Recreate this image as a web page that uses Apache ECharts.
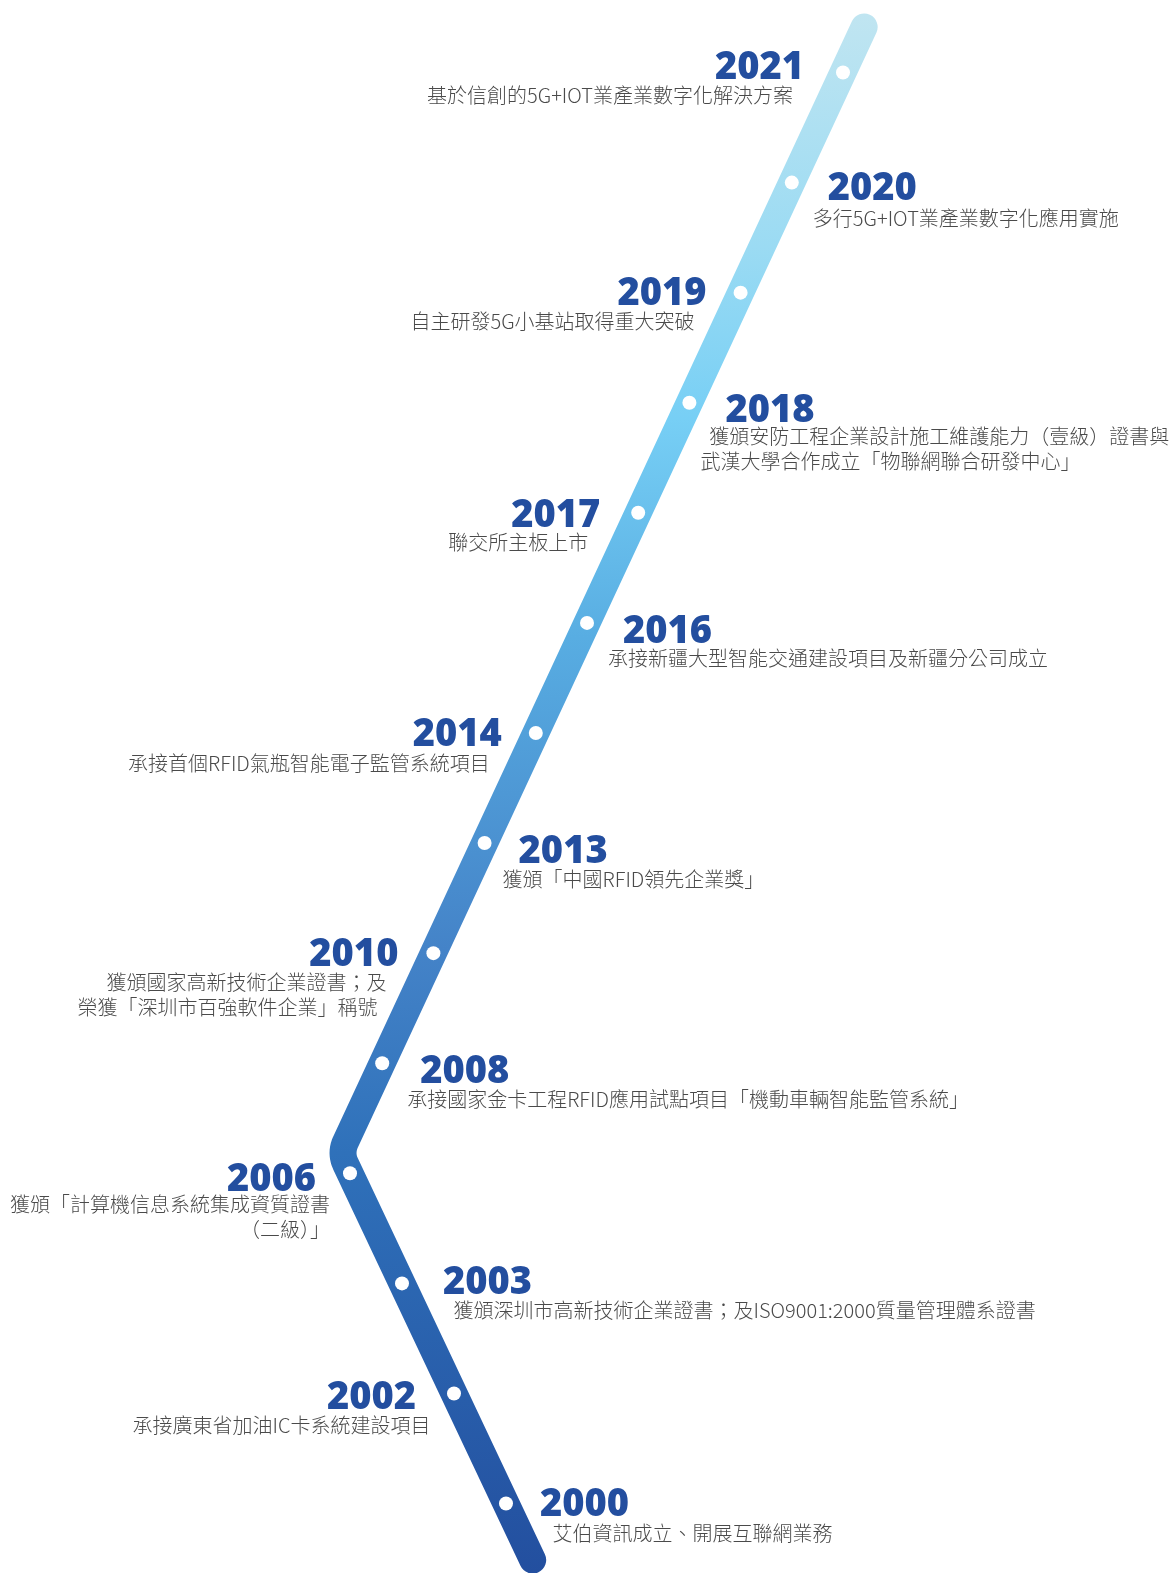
<!DOCTYPE html>
<html>
<head>
<meta charset="utf-8">
<title>發展歷程</title>
<script src="https://cdn.jsdelivr.net/npm/echarts@6/dist/echarts.min.js"></script>
<style>
    html, body {
        margin: 0;
        padding: 0;
        background: #ffffff;
    }
    #chart {
        width: 1173px;
        height: 1573px;
    }
</style>
</head>
<body>
<div id="chart"></div>
<script>
    // 年份（由上到下）
    var years = ['2021', '2020', '2019', '2018', '2017', '2016', '2014', '2013', '2010', '2008', '2006', '2003', '2002', '2000'];
    // 大事記
    var notes = [
        '基於信創的5G+IOT業產業數字化解決方案',
        '多行5G+IOT業產業數字化應用實施',
        '自主研發5G小基站取得重大突破',
        '  獲頒安防工程企業設計施工維護能力（壹級）證書與\n武漢大學合作成立「物聯網聯合研發中心」',
        '聯交所主板上市',
        '承接新疆大型智能交通建設項目及新疆分公司成立',
        '承接首個RFID氣瓶智能電子監管系統項目',
        '獲頒「中國RFID領先企業獎」',
        '獲頒國家高新技術企業證書；及\n榮獲「深圳市百強軟件企業」稱號  ',
        '承接國家金卡工程RFID應用試點項目「機動車輛智能監管系統」',
        '獲頒「計算機信息系統集成資質證書\n（二級）」',
        '獲頒深圳市高新技術企業證書；及ISO9001:2000質量管理體系證書',
        '承接廣東省加油IC卡系統建設項目',
        '艾伯資訊成立、開展互聯網業務'
    ];

    // 标签相对圆点的偏移 [dx, dy]，偶数项在左、奇数项在右
    var yearShift = [[-39, -4], [36, 7], [-34, 2], [36, 8], [-38, 3], [36, 9], [-34, 2], [34, 9], [-35, 2], [38, 9], [-34, 7], [41, 0], [-38, 5], [34, 2]];
    var noteShift = [[-50, 23], [21, 36], [-46, 29], [11, 46.5], [-50, 30], [21, 36], [-46, 30], [18, 36], [-47, 41.5], [25, 36.5], [-20, 44], [51.5, 27], [-23.5, 32], [46.5, 29.5]];

    // 折线走向：上段每格左移 51.2px，下段每格右移 52px
    var topX = 843, upStep = 51.2, lowX = 350, lowK = 10, lowStep = 52;
    var yTop = 72.5, yStep = 110.08;
    var bendK = (topX - lowX + lowStep * lowK) / (upStep + lowStep);
    function laneX(k) {
        return k <= bendK ? topX - upStep * k : lowX + lowStep * (k - lowK);
    }
    function toPx(p) {
        return [p[0], yTop + yStep * p[1]];
    }
    function toData(q) {
        return [q[0], (q[1] - yTop) / yStep];
    }
    function unit(a, b) {
        var dx = b[0] - a[0], dy = b[1] - a[1], l = Math.sqrt(dx * dx + dy * dy);
        return [dx / l, dy / l];
    }

    // 拐角做圆角
    function buildPath(kStart, kEnd, radius) {
        var A = toPx([laneX(kStart), kStart]);
        var B = toPx([laneX(kEnd), kEnd]);
        var V = toPx([laneX(bendK), bendK]);
        var d1 = unit(V, A), d2 = unit(V, B);
        var half = Math.acos(d1[0] * d2[0] + d1[1] * d2[1]) / 2;
        var t = radius / Math.tan(half);
        var T1 = [V[0] + d1[0] * t, V[1] + d1[1] * t];
        var T2 = [V[0] + d2[0] * t, V[1] + d2[1] * t];
        var bis = unit([0, 0], [d1[0] + d2[0], d1[1] + d2[1]]);
        var cd = radius / Math.sin(half);
        var C = [V[0] + bis[0] * cd, V[1] + bis[1] * cd];
        var a1 = Math.atan2(T1[1] - C[1], T1[0] - C[0]);
        var a2 = Math.atan2(T2[1] - C[1], T2[0] - C[0]);
        var da = a2 - a1;
        // 走短的那段弧
        while (da > Math.PI) da -= 2 * Math.PI;
        while (da < -Math.PI) da += 2 * Math.PI;
        var pts = [A];
        var n = 10;
        for (var i = 0; i <= n; i++) {
            var a = a1 + da * i / n;
            pts.push([C[0] + radius * Math.cos(a), C[1] + radius * Math.sin(a)]);
        }
        pts.push(B);
        return pts.map(toData);
    }
    var pathPts = buildPath(-0.413, 13.513, 25);

    var chart = echarts.init(document.getElementById('chart'));

    var dotData = years.map(function (y, i) {
        var left = i % 2 === 0;
        return {
            value: [laneX(i), i],
            label: {align: left ? 'right' : 'left', offset: yearShift[i]}
        };
    });
    var noteData = notes.map(function (t, i) {
        var left = i % 2 === 0;
        return {
            value: [laneX(i), i],
            label: {align: left ? 'right' : 'left', offset: noteShift[i]}
        };
    });

    var option = {
        animation: false,
        backgroundColor: '#ffffff',
        grid: {left: 0, right: 0, top: 0, bottom: 0},
        xAxis: {type: 'value', min: 0, max: 1173, show: false},
        yAxis: {type: 'value', min: -0.6586, max: 13.631, inverse: true, show: false},
        series: [
            {
                type: 'line',
                data: pathPts,
                symbol: 'none',
                silent: true,
                z: 1,
                clip: false,
                lineStyle: {
                    width: 27,
                    cap: 'round',
                    join: 'round',
                    color: new echarts.graphic.LinearGradient(0, 0, 0, 1, [
                        {offset: 0, color: '#c0e5f1'},
                        {offset: 0.15, color: '#9bdbf3'},
                        {offset: 0.26, color: '#77cff5'},
                        {offset: 0.4, color: '#58ade2'},
                        {offset: 0.6, color: '#4483c8'},
                        {offset: 0.73, color: '#2f71ba'},
                        {offset: 1, color: '#234f9f'}
                    ])
                }
            },
            {
                type: 'scatter',
                data: dotData,
                symbol: 'circle',
                symbolSize: 14,
                silent: true,
                z: 3,
                itemStyle: {color: '#ffffff', opacity: 1},
                label: {
                    show: true,
                    position: 'inside',
                    verticalAlign: 'middle',
                    formatter: function (p) {
                        return years[p.dataIndex];
                    },
                    fontFamily: 'Open Sans',
                    fontWeight: 800,
                    fontSize: 38,
                    color: '#234e9f',
                    opacity: 1,
                    textBorderWidth: 0
                }
            },
            {
                type: 'scatter',
                data: noteData,
                symbol: 'circle',
                symbolSize: 1,
                silent: true,
                z: 3,
                itemStyle: {color: 'rgba(0,0,0,0)', opacity: 1},
                label: {
                    show: true,
                    position: 'inside',
                    verticalAlign: 'middle',
                    formatter: function (p) {
                        return notes[p.dataIndex];
                    },
                    fontFamily: 'Noto Sans CJK TC',
                    fontWeight: 300,
                    fontSize: 20,
                    lineHeight: 25,
                    color: '#4a4a4a',
                    opacity: 1,
                    textBorderWidth: 0
                }
            }
        ]
    };
    chart.setOption(option);
</script>
</body>
</html>
